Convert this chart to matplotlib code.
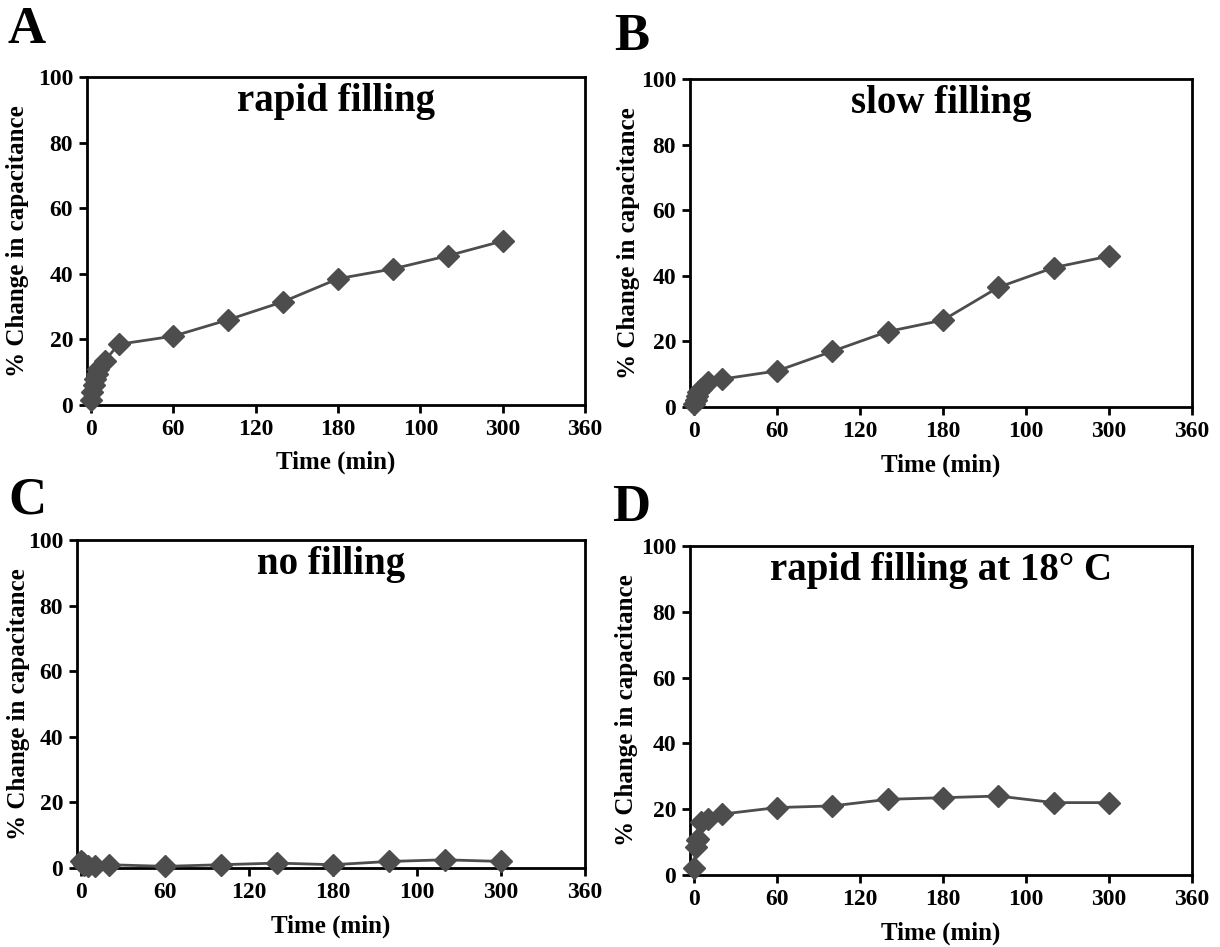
import matplotlib
matplotlib.use("Agg")
import matplotlib.pyplot as plt

plt.rcParams['font.family'] = ['Liberation Serif', 'DejaVu Serif']
plt.rcParams['font.weight'] = 'bold'

# time points (min)
timeA = [0, 1, 2, 3, 4, 5, 10, 20, 60, 100, 140, 180, 220, 260, 300]
rapid = [1.5, 4, 6, 8, 9.5, 11, 13.5, 18.5, 21, 26, 31.5, 38.5, 41.5, 45.5, 50]

timeB = [0, 1, 2, 3, 5, 10, 20, 60, 100, 140, 180, 220, 260, 300]
slow = [1, 2, 3.5, 4.5, 5.5, 7.5, 8.5, 11, 17, 23, 26.5, 36.5, 42.5, 46]

timeC = [0, 1, 2, 5, 10, 20, 60, 100, 140, 180, 220, 260, 300]
nofill = [2, 1.5, 1, 0.5, 0.5, 1, 0.5, 1, 1.5, 1, 2, 2.5, 2]

timeD = [0, 1, 2, 3, 5, 10, 20, 60, 100, 140, 180, 220, 260, 300]
cold = [2, 8.5, 10.5, 11, 16, 17, 18.5, 20.5, 21, 23, 23.5, 24, 22, 22]

xticks = [0, 60, 120, 180, 240, 300, 360]
xticklabels = ['0', '60', '120', '180', '100', '300', '360']
yticks = [0, 20, 40, 60, 80, 100]

# (letter, title, x, y, [left, bottom, right, top] px, letter pos, ylabel x px, xlabel y px)
panels = [
    ('A', 'rapid filling', timeA, rapid, [87, 405, 585, 77], (8, 43), 18, 462),
    ('B', 'slow filling', timeB, slow, [690, 407, 1192, 79], (614, 50), 628, 465),
    ('C', 'no filling', timeC, nofill, [77, 868, 585, 540], (8, 514), 18, 926),
    ('D', 'rapid filling at 18\u00b0 C', timeD, cold, [690, 875, 1192, 546], (612, 521), 627, 933),
]

W, H = 1220, 947
fig = plt.figure(figsize=(W / 100, H / 100), dpi=100)

for letter, title, t, v, box, lpos, ylx, xly in panels:
    l, b, r, tp = box
    ax = fig.add_axes([l / W, 1 - b / H, (r - l) / W, (b - tp) / H])
    ax.plot(t, v, color='#4d4d4d', lw=2, marker='D', ms=11,
            mfc='#4d4d4d', mec='#4d4d4d', clip_on=False, zorder=3)
    ax.set_xlim(-3, 360)
    ax.set_ylim(0, 100)
    ax.set_xticks(xticks)
    ax.set_xticklabels(xticklabels)
    ax.set_yticks(yticks)
    ax.tick_params(direction='out', length=6, width=2, labelsize=17, pad=4)
    for s in ax.spines.values():
        s.set_linewidth(2)
    ax.set_xlabel('Time (min)', fontsize=18, fontweight='bold')
    ax.set_ylabel('% Change in capacitance', fontsize=18, fontweight='bold')
    ax.xaxis.set_label_coords(0.5, (b - xly) / (b - tp), transform=ax.transAxes)
    ax.xaxis.label.set_va('center')
    ax.yaxis.set_label_coords((ylx - l) / (r - l), 0.5, transform=ax.transAxes)
    ax.yaxis.label.set_va('center')
    ax.text(0.5, 0.925, title, transform=ax.transAxes, ha='center', va='center',
            fontsize=28, fontweight='bold')
    fig.text(lpos[0] / W, 1 - lpos[1] / H, letter, fontsize=38, fontweight='bold',
             ha='left', va='baseline')

fig.savefig('out.png', dpi=100)
